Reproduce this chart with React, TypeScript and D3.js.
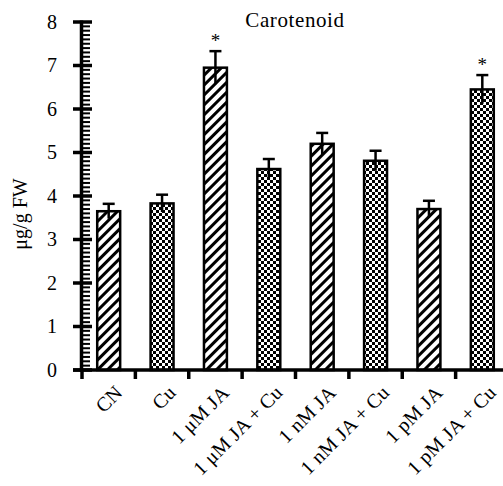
import React from "react";
import * as d3 from "d3";

const categories = [
  "CN",
  "Cu",
  "1 μM JA",
  "1 μM JA + Cu",
  "1 nM JA",
  "1 nM JA + Cu",
  "1 pM JA",
  "1 pM JA + Cu",
];
const values = [3.65, 3.83, 6.95, 4.62, 5.2, 4.81, 3.7, 6.45];
const errors = [0.17, 0.2, 0.38, 0.23, 0.25, 0.23, 0.19, 0.33];
const patterns = ["hatch", "check", "hatch", "check", "hatch", "check", "hatch", "check"];
const stars = [false, false, true, false, false, false, false, true];
const yTicks = [0, 1, 2, 3, 4, 5, 6, 7, 8];

const W = 503;
const H = 486;
const font = "'Liberation Serif', 'Times New Roman', serif";

export default function App() {
  const x = d3
    .scaleBand<string>()
    .domain(categories)
    .range([82, 509])
    .paddingInner(0.57)
    .paddingOuter(0.285);
  const y = d3.scaleLinear().domain([0, 8]).range([370, 22]);
  const step = x.step();
  const x0 = 82;
  const minor = d3.range(0, 80).map((i) => i / 10).filter((v) => Math.abs(v - Math.round(v)) > 1e-6);

  return (
    <svg
      width={W}
      height={H}
      style={{ position: "absolute", left: 0, top: 0, background: "#fff" }}
      fontFamily={font}
    >
      <defs>
        <pattern id="hatch" width="7" height="7" patternUnits="userSpaceOnUse" patternTransform="rotate(45)">
          <rect width="7" height="7" fill="#fff" />
          <rect x="0" y="0" width="3" height="7" fill="#000" />
        </pattern>
        <pattern id="check" width="6" height="6" patternUnits="userSpaceOnUse">
          <rect width="6" height="6" fill="#fff" />
          <rect x="0" y="0" width="3" height="3" fill="#000" />
          <rect x="3" y="3" width="3" height="3" fill="#000" />
        </pattern>
      </defs>

      {/* title */}
      <text x={295} y={27} fontSize={21} textAnchor="middle" letterSpacing={0.6}>
        Carotenoid
      </text>

      {/* bars */}
      {categories.map((c, i) => {
        const bx = x(c)!;
        const bw = x.bandwidth();
        const cx = bx + bw / 2;
        const top = y(values[i]);
        const hi = y(values[i] + errors[i]);
        return (
          <g key={c}>
            <rect
              x={bx}
              y={top}
              width={bw}
              height={y(0) - top}
              fill={`url(#${patterns[i]})`}
              stroke="#000"
              strokeWidth={2.5}
            />
            <line x1={cx} x2={cx} y1={y(values[i] - errors[i])} y2={hi} stroke="#000" strokeWidth={2.5} />
            <line x1={cx - 6} x2={cx + 6} y1={hi} y2={hi} stroke="#000" strokeWidth={2.5} />
            {stars[i] && (
              <text x={cx} y={hi - 4} fontSize={19} textAnchor="middle">
                *
              </text>
            )}
          </g>
        );
      })}

      {/* y axis */}
      <line x1={81.5} x2={81.5} y1={y(8) - 1.5} y2={y(0) + 2} stroke="#000" strokeWidth={3.5} />
      {yTicks.map((t) => (
        <g key={t}>
          <line x1={73} x2={92} y1={y(t)} y2={y(t)} stroke="#000" strokeWidth={3.5} />
          <text x={57} y={y(t) + 6.5} fontSize={20} textAnchor="end">
            {t}
          </text>
        </g>
      ))}
      {minor.map((v) => (
        <line key={v} x1={82} x2={90} y1={y(v)} y2={y(v)} stroke="#000" strokeWidth={2} />
      ))}

      {/* x axis */}
      <line x1={73} x2={W} y1={y(0)} y2={y(0)} stroke="#000" strokeWidth={3.5} />
      {d3.range(0, 8).map((i) => (
        <line key={i} x1={x0 + i * step} x2={x0 + i * step} y1={y(0)} y2={y(0) + 9} stroke="#000" strokeWidth={3.5} />
      ))}
      {categories.map((c) => {
        const cx = x(c)! + x.bandwidth() / 2;
        return (
          <text
            key={c}
            transform={`translate(${cx + 5},${384}) rotate(-45)`}
            fontSize={20}
            textAnchor="end"
            dy="0.7em"
            letterSpacing={0.2}
          >
            {c}
          </text>
        );
      })}

      {/* y label */}
      <text transform={`translate(27,214) rotate(-90)`} fontSize={20} textAnchor="middle">
        μg/g FW
      </text>
    </svg>
  );
}
